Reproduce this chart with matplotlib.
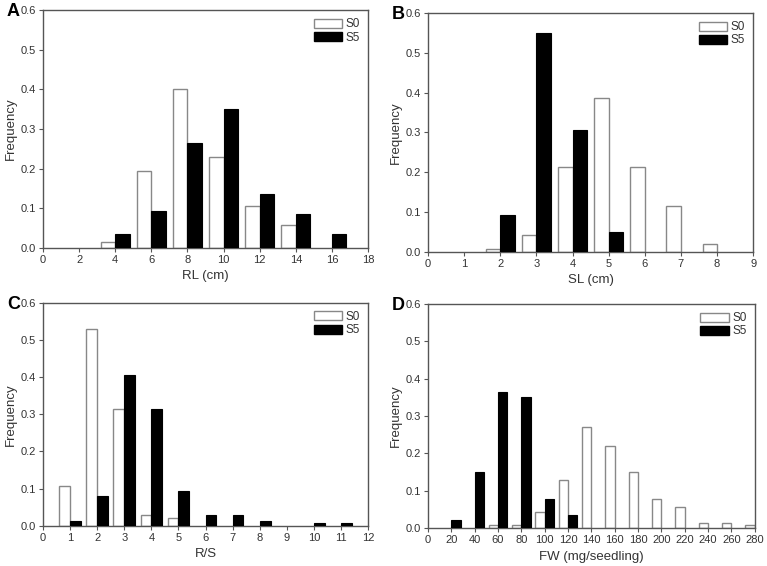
import matplotlib
matplotlib.use("Agg")
import matplotlib.pyplot as plt
import numpy as np
from matplotlib.patches import Patch

plt.rcParams['font.family'] = ['Liberation Sans', 'DejaVu Sans']

# Panel A: RL (cm)
rl_bins = [4, 6, 8, 10, 12, 14, 16]
rl_s0 = [0.014, 0.193, 0.400, 0.229, 0.107, 0.057, 0.0]
rl_s5 = [0.036, 0.093, 0.264, 0.350, 0.136, 0.086, 0.036]

# Panel B: SL (cm)
sl_bins = [2, 3, 4, 5, 6, 7, 8]
sl_s0 = [0.007, 0.043, 0.214, 0.386, 0.214, 0.114, 0.021]
sl_s5 = [0.093, 0.550, 0.307, 0.050, 0.0, 0.0, 0.0]

# Panel C: R/S
rs_bins = [1, 2, 3, 4, 5, 6, 7, 8, 9, 10, 11]
rs_s0 = [0.107, 0.529, 0.314, 0.029, 0.021, 0.0, 0.0, 0.0, 0.0, 0.0, 0.0]
rs_s5 = [0.014, 0.079, 0.407, 0.314, 0.093, 0.029, 0.029, 0.014, 0.0, 0.007, 0.007]

# Panel D: FW (mg/seedling)
fw_bins = [20, 40, 60, 80, 100, 120, 140, 160, 180, 200, 220, 240, 260, 280]
fw_s0 = [0.0, 0.0, 0.007, 0.007, 0.043, 0.129, 0.271, 0.221, 0.150, 0.079, 0.057, 0.014, 0.014, 0.007]
fw_s5 = [0.021, 0.150, 0.364, 0.350, 0.079, 0.036, 0.0, 0.0, 0.0, 0.0, 0.0, 0.0, 0.0, 0.0]

panels = [
    dict(letter='A', bins=rl_bins, s0=rl_s0, s5=rl_s5, xlim=(0, 18), xticks=np.arange(0, 19, 2),
         xlabel='RL (cm)', step=2, pos=[0.056, 0.562, 0.424, 0.420]),
    dict(letter='B', bins=sl_bins, s0=sl_s0, s5=sl_s5, xlim=(0, 9), xticks=np.arange(0, 10, 1),
         xlabel='SL (cm)', step=1, pos=[0.558, 0.555, 0.424, 0.422]),
    dict(letter='C', bins=rs_bins, s0=rs_s0, s5=rs_s5, xlim=(0, 12), xticks=np.arange(0, 13, 1),
         xlabel='R/S', step=1, pos=[0.056, 0.071, 0.424, 0.394]),
    dict(letter='D', bins=fw_bins, s0=fw_s0, s5=fw_s5, xlim=(0, 280), xticks=np.arange(0, 281, 20),
         xlabel='FW (mg/seedling)', step=20, pos=[0.558, 0.067, 0.426, 0.396]),
]

fig = plt.figure(figsize=(7.67, 5.66), dpi=100)
axcol = '#555555'
for p in panels:
    ax = fig.add_axes(p['pos'])
    w = 0.4 * p['step']
    b = np.array(p['bins'], dtype=float)
    s0 = np.array(p['s0'])
    s5 = np.array(p['s5'])
    m0 = s0 > 0
    m5 = s5 > 0
    ax.bar(b[m0] - w, s0[m0], width=w, align='edge', facecolor='white',
           edgecolor='#888888', linewidth=1.0, zorder=2)
    ax.bar(b[m5], s5[m5], width=w, align='edge', facecolor='black',
           edgecolor='black', linewidth=0.8, zorder=3)
    ax.set_xlim(*p['xlim'])
    ax.set_ylim(0, 0.6)
    ax.set_xticks(p['xticks'])
    ax.set_yticks(np.arange(0, 0.61, 0.1))
    ax.set_yticklabels([f'{v:.1f}' for v in np.arange(0, 0.61, 0.1)])
    ax.tick_params(direction='out', length=3, width=0.8, labelsize=8,
                   color=axcol, labelcolor='#333333', pad=2)
    for s in ax.spines.values():
        s.set_color(axcol)
        s.set_linewidth(1.0)
    ax.set_xlabel(p['xlabel'], fontsize=9.5, color='#333333', labelpad=4)
    ax.set_ylabel('Frequency', fontsize=9.5, color='#333333', labelpad=3)
    handles = [Patch(facecolor='white', edgecolor='#888888', label='S0'),
               Patch(facecolor='black', edgecolor='black', label='S5')]
    ax.legend(handles=handles, loc='upper right', frameon=False, fontsize=8.5,
              handlelength=2.4, handleheight=0.8, handletextpad=0.3,
              labelspacing=0.1, borderaxespad=0.3, labelcolor='#333333')
    bb = p['pos']
    fig.text(bb[0] - 0.047, bb[1] + bb[3] - 0.003, p['letter'], fontsize=13,
             fontweight='bold', ha='left', va='center')

fig.savefig('out.png', dpi=100)
